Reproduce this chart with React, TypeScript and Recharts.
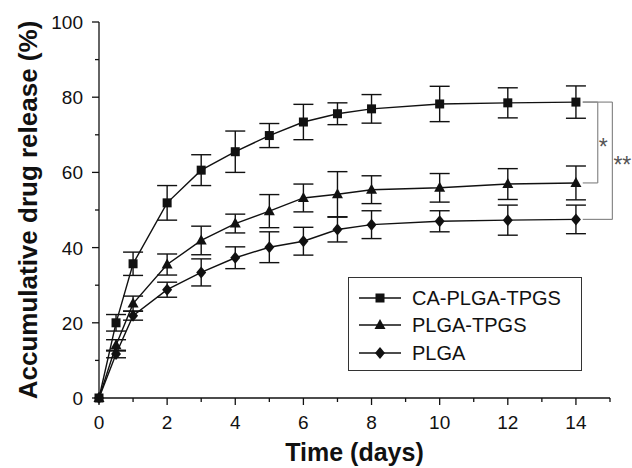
import { LineChart, Line, XAxis, YAxis, ErrorBar, Legend, ReferenceLine, Label } from 'recharts'

const times = [0, 0.5, 1, 2, 3, 4, 5, 6, 7, 8, 10, 12, 14]
const caRelease = [0, 20.0, 35.7, 51.9, 60.6, 65.5, 69.8, 73.4, 75.6, 76.9, 78.2, 78.5, 78.7]
const caError = [0, 2.2, 3.1, 4.6, 4.1, 5.5, 3.2, 4.7, 2.9, 3.8, 4.7, 4.0, 4.3]
const tpgsRelease = [0, 14.0, 25.1, 35.5, 41.9, 46.4, 49.7, 53.2, 54.2, 55.4, 55.9, 56.9, 57.2]
const tpgsError = [0, 1.5, 2.0, 2.8, 3.8, 2.5, 4.4, 3.7, 6.0, 3.7, 3.8, 4.1, 4.5]
const plgaRelease = [0, 11.7, 21.9, 28.8, 33.4, 37.3, 40.1, 41.7, 44.8, 46.1, 47.0, 47.3, 47.5]
const plgaError = [0, 1.0, 1.2, 2.0, 3.6, 2.9, 4.1, 3.7, 3.3, 3.7, 2.8, 4.0, 3.8]

const xTicks = [0, 1, 2, 3, 4, 5, 6, 7, 8, 9, 10, 11, 12, 13, 14, 15]
const yTicks = [0, 10, 20, 30, 40, 50, 60, 70, 80, 90, 100]

const seriesNames = ['CA-PLGA-TPGS', 'PLGA-TPGS', 'PLGA']

const FONT = "'Liberation Sans', Arial, sans-serif"
const INK = '#111'
const GREY = '#8a8a8a'

const rows = times.map((t, i) => ({
  t,
  ca: caRelease[i],
  caErr: caError[i],
  tpgs: tpgsRelease[i],
  tpgsErr: tpgsError[i],
  plga: plgaRelease[i],
  plgaErr: plgaError[i],
}))

const last = (a: number[]) => a[a.length - 1]

function Square({ cx, cy }: { cx: number; cy: number }) {
  return <rect x={cx - 4.5} y={cy - 4.5} width={9} height={9} fill={INK} />
}
function Triangle({ cx, cy }: { cx: number; cy: number }) {
  return <polygon points={`${cx},${cy - 6} ${cx + 5.5},${cy + 4} ${cx - 5.5},${cy + 4}`} fill={INK} />
}
function Diamond({ cx, cy }: { cx: number; cy: number }) {
  return <polygon points={`${cx},${cy - 6} ${cx + 5},${cy} ${cx},${cy + 6} ${cx - 5},${cy}`} fill={INK} />
}
const markers = [Square, Triangle, Diamond]

function dotOf(Mark: typeof Square) {
  return (p: any) => (
    <g key={`d-${p.index}`}>
      <Mark cx={p.cx} cy={p.cy} />
    </g>
  )
}

function XTick({ x, y, payload }: any) {
  const v = payload.value
  const major = v % 2 === 0 && v <= 14
  return (
    <g>
      <line x1={x} y1={y} x2={x} y2={y + (major ? 7 : 4)} stroke={INK} strokeWidth={1.3} />
      {major && (
        <text x={x} y={y + 31} textAnchor="middle" fontFamily={FONT} fontSize={19} fill={INK}>
          {v}
        </text>
      )}
    </g>
  )
}

function YTick({ x, y, payload }: any) {
  const v = payload.value
  const major = v % 20 === 0
  return (
    <g>
      <line x1={x} y1={y} x2={x - (major ? 7 : 4)} y2={y} stroke={INK} strokeWidth={1.3} />
      {major && (
        <text x={x - 16} y={y + 7} textAnchor="end" fontFamily={FONT} fontSize={19} fill={INK}>
          {v}
        </text>
      )}
    </g>
  )
}

function LegendBox() {
  return (
    <div
      style={{
        width: 234,
        height: 94,
        boxSizing: 'border-box',
        border: '1.3px solid #333',
        paddingTop: 6,
        background: '#fff',
      }}
    >
      {seriesNames.map((name, i) => {
        const Mark = markers[i]
        return (
          <div key={name} style={{ display: 'flex', alignItems: 'center', height: 27.5 }}>
            <svg width={42} height={20} style={{ marginLeft: 10, marginRight: 11 }}>
              <line x1={0} y1={10} x2={42} y2={10} stroke={INK} strokeWidth={1.5} />
              <Mark cx={21} cy={10} />
            </svg>
            <span style={{ fontFamily: FONT, fontSize: 20, color: INK, lineHeight: '20px' }}>{name}</span>
          </div>
        )
      })}
    </div>
  )
}

// asterisk glyph sits high in the em box, so push the baseline down to centre it on the bracket
function starLabel(text: string, dx: number) {
  return ({ viewBox }: any) => (
    <text
      x={viewBox.x + dx}
      y={viewBox.y + viewBox.height / 2 + 12}
      fontFamily={FONT}
      fontSize={23}
      fill="#555"
    >
      {text}
    </text>
  )
}

const brackets = [
  { top: last(caRelease), bottom: last(tpgsRelease), x: 14.64, label: '*' },
  { top: last(caRelease), bottom: last(plgaRelease), x: 15.07, label: '**' },
]

export default function App() {
  return (
    <div style={{ position: 'absolute', left: 0, top: 0, background: '#fff' }}>
      <LineChart width={632} height={468} data={rows} margin={{ top: 22, right: 22, bottom: 0, left: 0 }}>
        <XAxis
          dataKey="t"
          type="number"
          domain={[0, 15]}
          ticks={xTicks}
          interval={0}
          tickSize={0}
          tickMargin={0}
          tickLine={false}
          tick={<XTick />}
          height={70}
          axisLine={{ stroke: INK, strokeWidth: 1.3 }}
        >
          <Label
            content={({ viewBox }: any) => (
              <text
                x={viewBox.x + viewBox.width / 2}
                y={viewBox.y + 63}
                textAnchor="middle"
                fontFamily={FONT}
                fontWeight="bold"
                fontSize={25}
                fill={INK}
              >
                Time (days)
              </text>
            )}
          />
        </XAxis>
        <YAxis
          type="number"
          domain={[0, 100]}
          ticks={yTicks}
          interval={0}
          tickSize={0}
          tickMargin={0}
          tickLine={false}
          tick={<YTick />}
          width={99}
          axisLine={{ stroke: INK, strokeWidth: 1.3 }}
        >
          <Label
            content={({ viewBox }: any) => {
              const cx = viewBox.x + 28
              const cy = viewBox.y + viewBox.height / 2
              return (
                <text
                  x={cx}
                  y={cy}
                  transform={`rotate(-90 ${cx} ${cy})`}
                  textAnchor="middle"
                  dominantBaseline="central"
                  fontFamily={FONT}
                  fontWeight="bold"
                  fontSize={26}
                  fill={INK}
                >
                  Accumulative drug release (%)
                </text>
              )
            }}
          />
        </YAxis>

        {brackets.map((b) => (
          <ReferenceLine
            key={`h1-${b.label}`}
            segment={[{ x: 14.2, y: b.top }, { x: b.x, y: b.top }]}
            stroke={GREY}
            strokeWidth={1.2}
            ifOverflow="visible"
          />
        ))}
        {brackets.map((b) => (
          <ReferenceLine
            key={`h2-${b.label}`}
            segment={[{ x: 14.2, y: b.bottom }, { x: b.x, y: b.bottom }]}
            stroke={GREY}
            strokeWidth={1.2}
            ifOverflow="visible"
          />
        ))}
        {brackets.map((b) => (
          <ReferenceLine
            key={`v-${b.label}`}
            segment={[{ x: b.x, y: b.top }, { x: b.x, y: b.bottom }]}
            stroke={GREY}
            strokeWidth={1.2}
            ifOverflow="visible"
            label={starLabel(b.label, 1)}
          />
        ))}

        <Line
          dataKey="ca"
          name={seriesNames[0]}
          type="linear"
          stroke={INK}
          strokeWidth={1.4}
          dot={dotOf(Square)}
          isAnimationActive={false}
        >
          <ErrorBar dataKey="caErr" width={10} stroke={INK} strokeWidth={1.4} direction="y" />
        </Line>
        <Line
          dataKey="tpgs"
          name={seriesNames[1]}
          type="linear"
          stroke={INK}
          strokeWidth={1.4}
          dot={dotOf(Triangle)}
          isAnimationActive={false}
        >
          <ErrorBar dataKey="tpgsErr" width={10} stroke={INK} strokeWidth={1.4} direction="y" />
        </Line>
        <Line
          dataKey="plga"
          name={seriesNames[2]}
          type="linear"
          stroke={INK}
          strokeWidth={1.4}
          dot={dotOf(Diamond)}
          isAnimationActive={false}
        >
          <ErrorBar dataKey="plgaErr" width={10} stroke={INK} strokeWidth={1.4} direction="y" />
        </Line>

        <Legend
          layout="vertical"
          align="center"
          verticalAlign="middle"
          wrapperStyle={{ left: 348, top: 277, width: 234, height: 94 }}
          content={() => <LegendBox />}
        />
      </LineChart>
    </div>
  )
}
